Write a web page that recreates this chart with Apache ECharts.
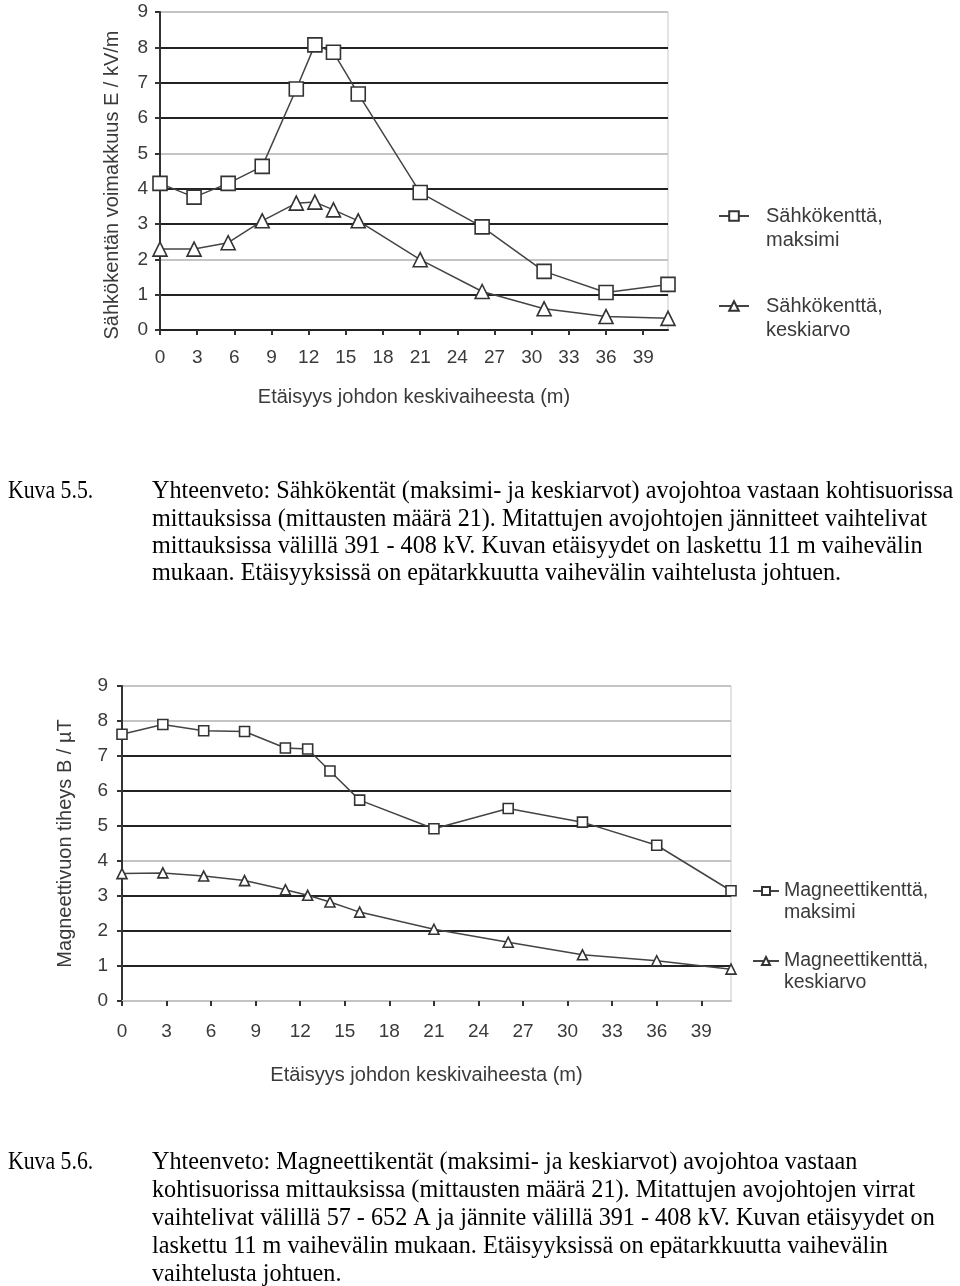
<!DOCTYPE html>
<html><head><meta charset="utf-8">
<script src="https://cdn.jsdelivr.net/npm/echarts@6/dist/echarts.min.js"></script>
<style>html,body{margin:0;padding:0;background:#fff}#c{width:960px;height:1286px}</style>
</head><body><div id="c"></div>
<script>
// Distances (m) measured along the x axis
const distances = [0, 2.75, 5.5, 8.25, 11, 12.5, 14, 16, 21, 26, 31, 36, 41];
// Chart 1: electric field E (kV/m)
const eMax  = [4.15, 3.76, 4.15, 4.63, 6.82, 8.07, 7.86, 6.68, 3.89, 2.92, 1.66, 1.06, 1.29];
const eMean = [2.29, 2.29, 2.47, 3.09, 3.59, 3.62, 3.40, 3.09, 1.99, 1.09, 0.60, 0.38, 0.33];
// Chart 2: magnetic flux density B (µT)
const bMax  = [7.62, 7.90, 7.72, 7.70, 7.23, 7.20, 6.57, 5.74, 4.92, 5.50, 5.11, 4.45, 3.15];
const bMean = [3.64, 3.66, 3.57, 3.44, 3.18, 3.02, 2.83, 2.54, 2.05, 1.68, 1.32, 1.15, 0.91];

const seriesNames = ['Sähkökenttä,\nmaksimi', 'Sähkökenttä,\nkeskiarvo', 'Magneettikenttä,\nmaksimi', 'Magneettikenttä,\nkeskiarvo'];
const xTitle = 'Etäisyys johdon keskivaiheesta (m)';
const yTitle1 = 'Sähkökentän voimakkuus E / kV/m';
const yTitle2 = 'Magneettivuon tiheys B / µT';
const caption1 = ['Yhteenveto: Sähkökentät (maksimi- ja keskiarvot) avojohtoa vastaan kohtisuorissa',
  'mittauksissa (mittausten määrä 21). Mitattujen avojohtojen jännitteet vaihtelivat',
  'mittauksissa välillä 391 - 408 kV. Kuvan etäisyydet on laskettu 11 m vaihevälin',
  'mukaan. Etäisyyksissä on epätarkkuutta vaihevälin vaihtelusta johtuen.'];
const caption2 = ['Yhteenveto: Magneettikentät (maksimi- ja keskiarvot) avojohtoa vastaan',
  'kohtisuorissa mittauksissa (mittausten määrä 21). Mitattujen avojohtojen virrat',
  'vaihtelivat välillä 57 - 652 A ja jännite välillä 391 - 408 kV. Kuvan etäisyydet on',
  'laskettu 11 m vaihevälin mukaan. Etäisyyksissä on epätarkkuutta vaihevälin',
  'vaihtelusta johtuen.'];

const pair = (xs, ys) => xs.map((x, i) => [x, ys[i]]);
const txt = '#3a3a3a';
const D = '#222', L = '#c4c4c4';
const font = 'Liberation Sans, Arial, sans-serif';

function xAxis(gi, labelMargin, nameGap, axisColor) {
  return {
    type: 'value', gridIndex: gi, min: 0, max: 41, interval: 3,
    name: xTitle, nameLocation: 'middle', nameGap: nameGap,
    nameTextStyle: { color: txt, fontSize: 20, fontFamily: font },
    axisLine: { show: true, lineStyle: { color: axisColor, width: 2 } },
    axisTick: { show: true, length: 5, lineStyle: { color: '#333', width: 2 } },
    axisLabel: { color: txt, fontSize: 19, fontFamily: font, margin: labelMargin, showMaxLabel: false },
    splitLine: { show: false }
  };
}
function yAxis(gi, name, nameGap, labelMargin, colors, namePad) {
  return {
    type: 'value', gridIndex: gi, min: 0, max: 9, interval: 1,
    name: name, nameLocation: 'middle', nameGap: nameGap, nameRotate: 90,
    nameTextStyle: { color: txt, fontSize: 20, fontFamily: font, padding: namePad },
    axisLine: { show: true, lineStyle: { color: '#333', width: 2 } },
    axisTick: { show: true, length: 5, lineStyle: { color: '#333', width: 2 } },
    axisLabel: { color: txt, fontSize: 19, fontFamily: font, margin: labelMargin },
    splitLine: { show: true, lineStyle: { color: colors, width: 2 } }
  };
}
function lineSeries(name, data, xi, yi, symbol, size) {
  return {
    type: 'line', name: name, xAxisIndex: xi, yAxisIndex: yi, data: data,
    symbol: symbol, symbolSize: size, showAllSymbol: true,
    lineStyle: { color: '#444', width: 1.5 },
    itemStyle: { color: '#fff', borderColor: '#333', borderWidth: 1.6 },
    emphasis: { disabled: true }, animation: false
  };
}

const graphics = [];
const capFont = '24.2px "Liberation Serif", "Times New Roman", serif';
function caption(label, lines, top, step) {
  graphics.push({ type: 'text', x: 8, y: top, scaleX: 0.9, style: { text: label, font: capFont, fill: '#000' } });
  lines.forEach((l, i) => graphics.push({ type: 'text', left: 152, top: top + i * step,
    style: { text: l, font: capFont, fill: '#000' } }));
}
caption('Kuva 5.5.', caption1, 480, 27.3);
caption('Kuva 5.6.', caption2, 1151, 28);

const legendText = (size, lh, padLeft) => ({ color: txt, fontSize: size, fontFamily: font, lineHeight: lh, padding: [0, 0, 0, padLeft] });

const chart = echarts.init(document.getElementById('c'), null, { renderer: 'canvas' });
chart.setOption({
  backgroundColor: '#fff',
  animation: false,
  grid: [
    { left: 160, top: 12, width: 508, height: 318, show: true, borderColor: '#c8c8c8', borderWidth: 1, backgroundColor: 'transparent' },
    { left: 122, top: 686, width: 609, height: 315, show: true, borderColor: '#c8c8c8', borderWidth: 1, backgroundColor: 'transparent' }
  ],
  xAxis: [xAxis(0, 18, 57, D), xAxis(1, 21, 64, L)],
  yAxis: [
    yAxis(0, yTitle1, 38, 12, [D, D, L, D, D, L, D, D, D, L], [0, 28, 0, 0]),
    yAxis(1, yTitle2, 47, 14, [L, D, D, D, L, D, D, D, L, L], [0, 0, 0, 0])
  ],
  legend: [
    { data: [seriesNames[0], seriesNames[1]], orient: 'vertical', left: 718, top: 180, padding: 0, itemGap: 18,
      itemWidth: 30, itemHeight: 12, formatter: n => '\n' + n, textStyle: legendText(20, 24, 12) },
    { data: [seriesNames[2], seriesNames[3]], orient: 'vertical', left: 752, top: 858, padding: 0, itemGap: 4,
      itemWidth: 26, itemHeight: 10, formatter: n => '\n' + n, textStyle: legendText(19.5, 22, 0) }
  ],
  series: [
    lineSeries(seriesNames[0], pair(distances, eMax), 0, 0, 'rect', 14),
    lineSeries(seriesNames[1], pair(distances, eMean), 0, 0, 'triangle', 14),
    lineSeries(seriesNames[2], pair(distances, bMax), 1, 1, 'rect', 10),
    lineSeries(seriesNames[3], pair(distances, bMean), 1, 1, 'triangle', 10)
  ],
  graphic: graphics
});
</script></body></html>
